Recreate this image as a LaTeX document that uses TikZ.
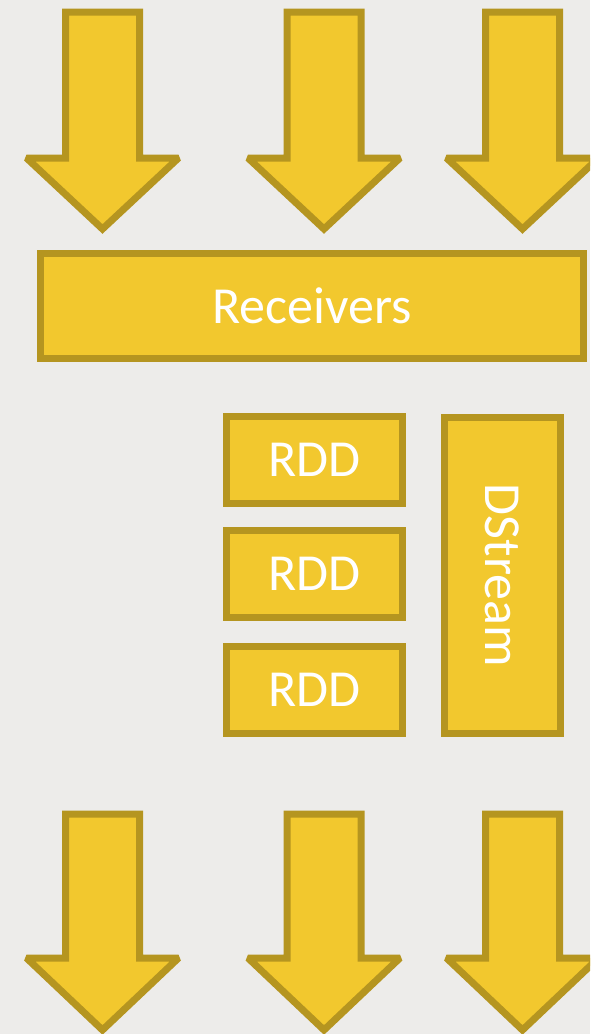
\documentclass[tikz,border=0pt]{standalone}
\usepackage{fontspec}
\setmainfont{Carlito}
\definecolor{bggray}{RGB}{237,236,234}
\definecolor{streamfill}{RGB}{242,200,46}
\definecolor{streamline}{RGB}{181,149,32}
\begin{document}
\begin{tikzpicture}[x=1pt, y=-1pt, line width=7pt,
  blockbox/.style={draw=streamline, fill=streamfill, text=white, inner sep=0pt,
    font=\fontsize{52}{60}\selectfont},
  downarrow/.style={draw=streamline, fill=streamfill, miter limit=1.6}]
  \useasboundingbox (0,0) rectangle (590,1034);
  \fill[bggray] (0,0) rectangle (590,1034);
  \clip (0,0) rectangle (590,1034);
  % streams in (top) and out (bottom)
  \foreach \cx in {102.5,324,522.5} {
    \foreach \ytop/\ysh/\ytip in {12/158/229, 814/958/1030} {
      \draw[downarrow] (\cx-37,\ytop) -- (\cx+37,\ytop) -- (\cx+37,\ysh) -- (\cx+76,\ysh)
        -- (\cx,\ytip) -- (\cx-76,\ysh) -- (\cx-37,\ysh) -- cycle;}}
  \node[blockbox, minimum width=543pt, minimum height=104.5pt] (receivers) at (312,305.75) {Receivers};
  \foreach \i/\y in {1/460,2/574,3/689.5}
    \node[blockbox, minimum width=176pt, minimum height=87pt] (rdd\i) at (314.5,\y) {RDD};
  \node[blockbox, rotate=-90, minimum width=316pt, minimum height=116pt] (dstream) at (502.5,575.5) {DStream};
\end{tikzpicture}
\end{document}
